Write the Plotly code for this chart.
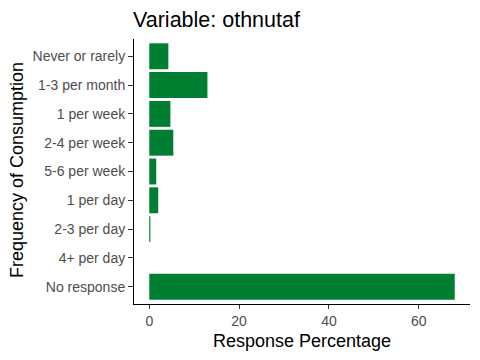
import plotly.graph_objects as go

categories = ["Never or rarely", "1-3 per month", "1 per week", "2-4 per week",
              "5-6 per week", "1 per day", "2-3 per day", "4+ per day", "No response"]
values = [4.25, 12.95, 4.7, 5.35, 1.55, 2.0, 0.25, 0.0, 68.0]
x_ticks = [0, 20, 40, 60]

L, R, T, B = 134, 470, 39, 304
W, H = R - L, B - T

fig = go.Figure(go.Bar(
    x=values, y=categories, orientation="h",
    marker=dict(color="#007f32", line=dict(width=0)),
    width=0.9, hoverinfo="skip",
))

fig.update_layout(
    width=480, height=360,
    margin=dict(l=L, r=480 - R, t=T, b=360 - B, autoexpand=False),
    paper_bgcolor="white", plot_bgcolor="white",
    font=dict(family="Liberation Sans, Arial, sans-serif"),
    title=dict(text="Variable: othnutaf", x=133 / 480, xref="container", xanchor="left",
               y=1 - 19 / 360, yref="container", yanchor="middle",
               font=dict(size=21.5, color="black")),
    showlegend=False,
    annotations=[
        dict(text="Response Percentage", xref="paper", yref="paper",
             x=(302 - L) / W, y=(B - 341) / H, xanchor="center", yanchor="middle",
             showarrow=False, font=dict(size=18, color="black")),
        dict(text="Frequency of Consumption", xref="paper", yref="paper",
             x=(17 - L) / W, y=(B - 170) / H, xanchor="center", yanchor="middle",
             textangle=-90, showarrow=False, font=dict(size=18, color="black")),
    ],
)
fig.update_xaxes(
    range=[-3.4, 71.4], tickvals=x_ticks, ticks="outside", ticklen=4,
    tickcolor="#333333", showline=True, linecolor="black", linewidth=1,
    showgrid=False, zeroline=False, automargin=False,
    tickfont=dict(size=14, color="#4d4d4d"),
)
fig.update_yaxes(
    categoryorder="array", categoryarray=categories[::-1],
    range=[-0.6, 8.6], ticks="outside", ticklen=5, tickcolor="#333333",
    showline=True, linecolor="black", linewidth=1, showgrid=False, zeroline=False,
    automargin=False,
    tickfont=dict(size=14, color="#4d4d4d"),
)

fig.write_html("out.html", config={"displayModeBar": False, "staticPlot": True},
               post_script="document.body.style.margin='0px';")
